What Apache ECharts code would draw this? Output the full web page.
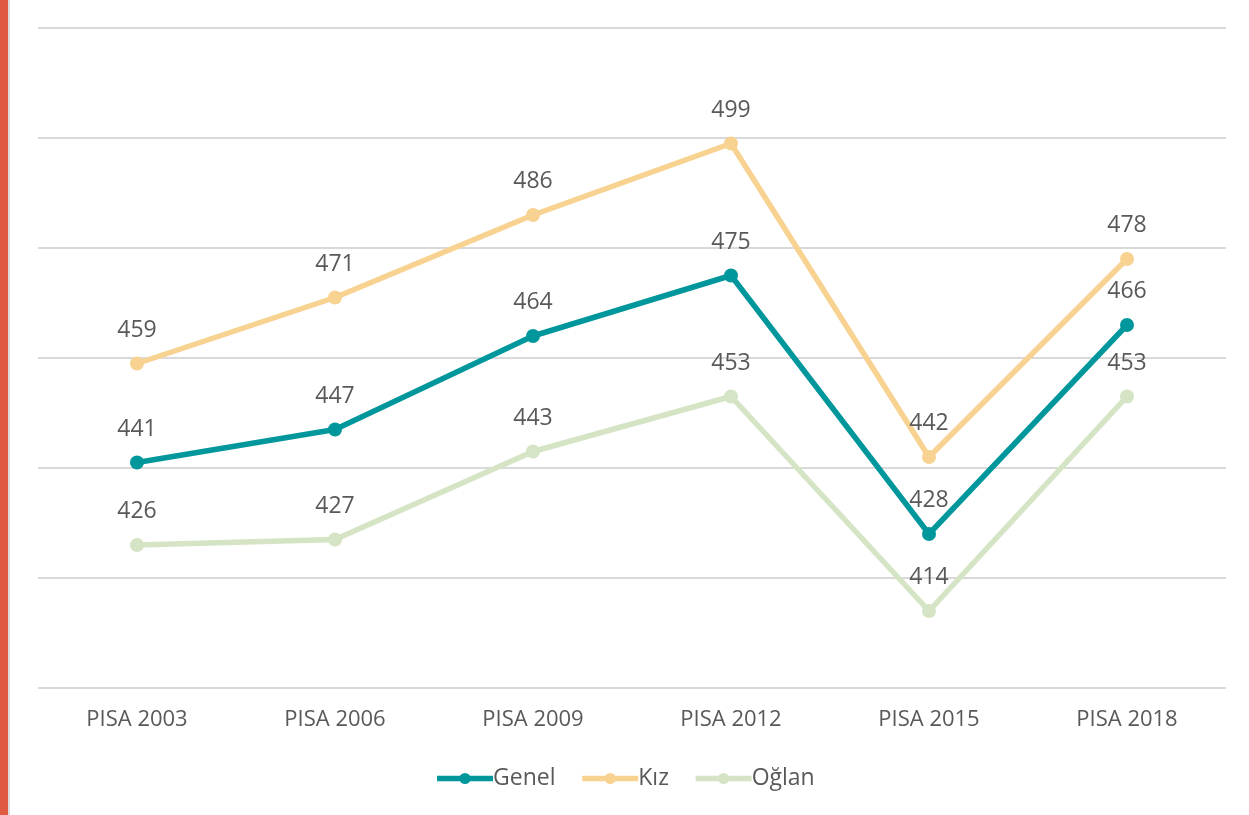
<!DOCTYPE html>
<html><head><meta charset="utf-8">
<script src="https://cdn.jsdelivr.net/npm/echarts@6/dist/echarts.min.js"></script>
<style>html,body{margin:0;padding:0;background:#fff;}#c{width:1249px;height:815px;}
#bar{position:absolute;left:0;top:0;width:8px;height:815px;background:#e05a42;border-right:2px solid #dcdcdc;}</style>
</head><body><div id="bar"></div><div id="c"></div>
<script>
const categories = ['PISA 2003','PISA 2006','PISA 2009','PISA 2012','PISA 2015','PISA 2018'];
const genel = [441, 447, 464, 475, 428, 466];
const kiz = [459, 471, 486, 499, 442, 478];
const oglan = [426, 427, 443, 453, 414, 453];
const chart = echarts.init(document.getElementById('c'));
const font = '"Open Sans", Lato, sans-serif';
function s(name, data, color, z) {
  return {
    name, type: 'line', data, z,
    symbol: 'circle', symbolSize: 14,
    lineStyle: { width: 5.5, color }, itemStyle: { color },
    label: { show: true, position: 'top', distance: 15, color: '#595959', fontSize: 23, fontFamily: font },
    emphasis: { disabled: true }, animation: false
  };
}
chart.setOption({
  animation: false,
  grid: { left: 38, right: 23, top: 28, bottom: 127 },
  legend: {
    bottom: 20, left: 'center', itemWidth: 56, itemHeight: 14, itemGap: 24,
    lineStyle: { width: 5.5 },
    textStyle: { color: '#595959', fontSize: 23, fontFamily: font, padding: [0,0,0,-5] },
    data: ['Genel', 'Kız', 'Oğlan']
  },
  xAxis: {
    type: 'category', data: categories, boundaryGap: true,
    axisLine: { show: false }, axisTick: { show: false },
    axisLabel: { color: '#595959', fontSize: 22, fontFamily: font, margin: 21 }
  },
  yAxis: {
    type: 'value', min: 400, max: 520, interval: 20,
    axisLabel: { show: false }, axisLine: { show: false }, axisTick: { show: false },
    splitLine: { lineStyle: { color: '#d9d9d9', width: 2 } }
  },
  series: [s('Genel', genel, '#00979c', 3), s('Kız', kiz, '#f8d290', 2), s('Oğlan', oglan, '#d4e4c4', 1)]
});
</script></body></html>
